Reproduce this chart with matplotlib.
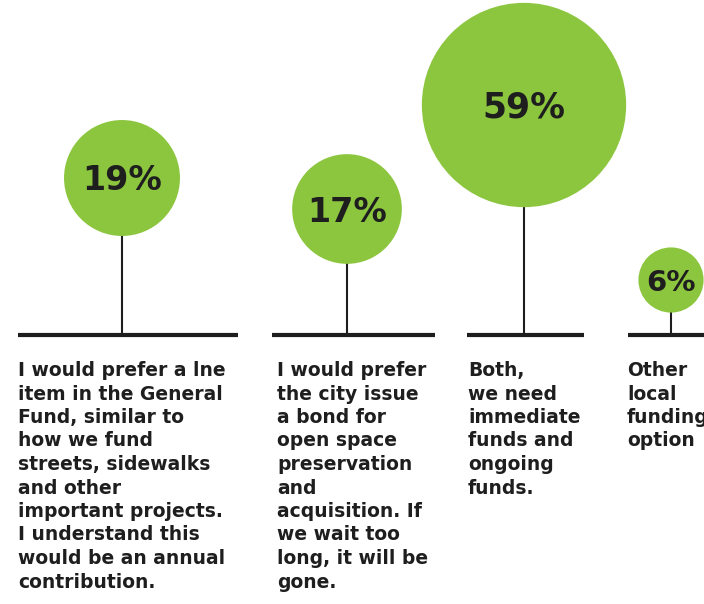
import matplotlib
matplotlib.use("Agg")
import matplotlib.pyplot as plt
from matplotlib.patches import Circle
import numpy as np

# ---- data ----
values = [19, 17, 59, 6]
value_labels = ["19%", "17%", "59%", "6%"]
answers = [
    "I would prefer a lne\nitem in the General\nFund, similar to\nhow we fund\nstreets, sidewalks\nand other\nimportant projects.\nI understand this\nwould be an annual\ncontribution.",
    "I would prefer\nthe city issue\na bond for\nopen space\npreservation\nand\nacquisition. If\nwe wait too\nlong, it will be\ngone.",
    "Both,\nwe need\nimmediate\nfunds and\nongoing\nfunds.",
    "Other\nlocal\nfunding\noption",
]

# ---- layout (pixels, y downward) ----
W, H = 704, 604
centers_x = [122, 347, 524, 671]
centers_y = [178, 209, 105, 280]
base_y = 335
seg_left = [18, 272, 467, 628]
seg_right = [238, 435, 584, 720]
text_x = [18, 277, 468, 627]
text_y = 361
label_sizes = [24, 24, 25, 21]
r_scale = 13.3  # px per sqrt(percent)

green = "#8cc63f"
dark = "#1e1e1e"

fig = plt.figure(figsize=(W / 100, H / 100), dpi=100)
ax = fig.add_axes([0, 0, 1, 1])
ax.set_xlim(0, W)
ax.set_ylim(H, 0)
ax.set_aspect("equal")
ax.axis("off")

for i, v in enumerate(values):
    r = r_scale * np.sqrt(v)
    cx, cy = centers_x[i], centers_y[i]
    # stem
    ax.plot([cx, cx], [cy + r - 1, base_y], color=dark, lw=1.5, solid_capstyle="butt", zorder=1)
    # baseline segment
    ax.plot([seg_left[i], seg_right[i]], [base_y, base_y], color=dark, lw=3.0,
            solid_capstyle="butt", zorder=1)
    ax.add_patch(Circle((cx, cy), r, facecolor=green, edgecolor="none", zorder=2))
    ax.text(cx, cy + 3, value_labels[i], ha="center", va="center", fontsize=label_sizes[i],
            fontweight="bold", color=dark, family="DejaVu Sans", zorder=3)
    ax.text(text_x[i], text_y, answers[i], ha="left", va="top", fontsize=13.5,
            fontweight="bold", color=dark, family="DejaVu Sans", linespacing=1.3,
            clip_on=True, zorder=3)

fig.savefig("out.png", dpi=100)
